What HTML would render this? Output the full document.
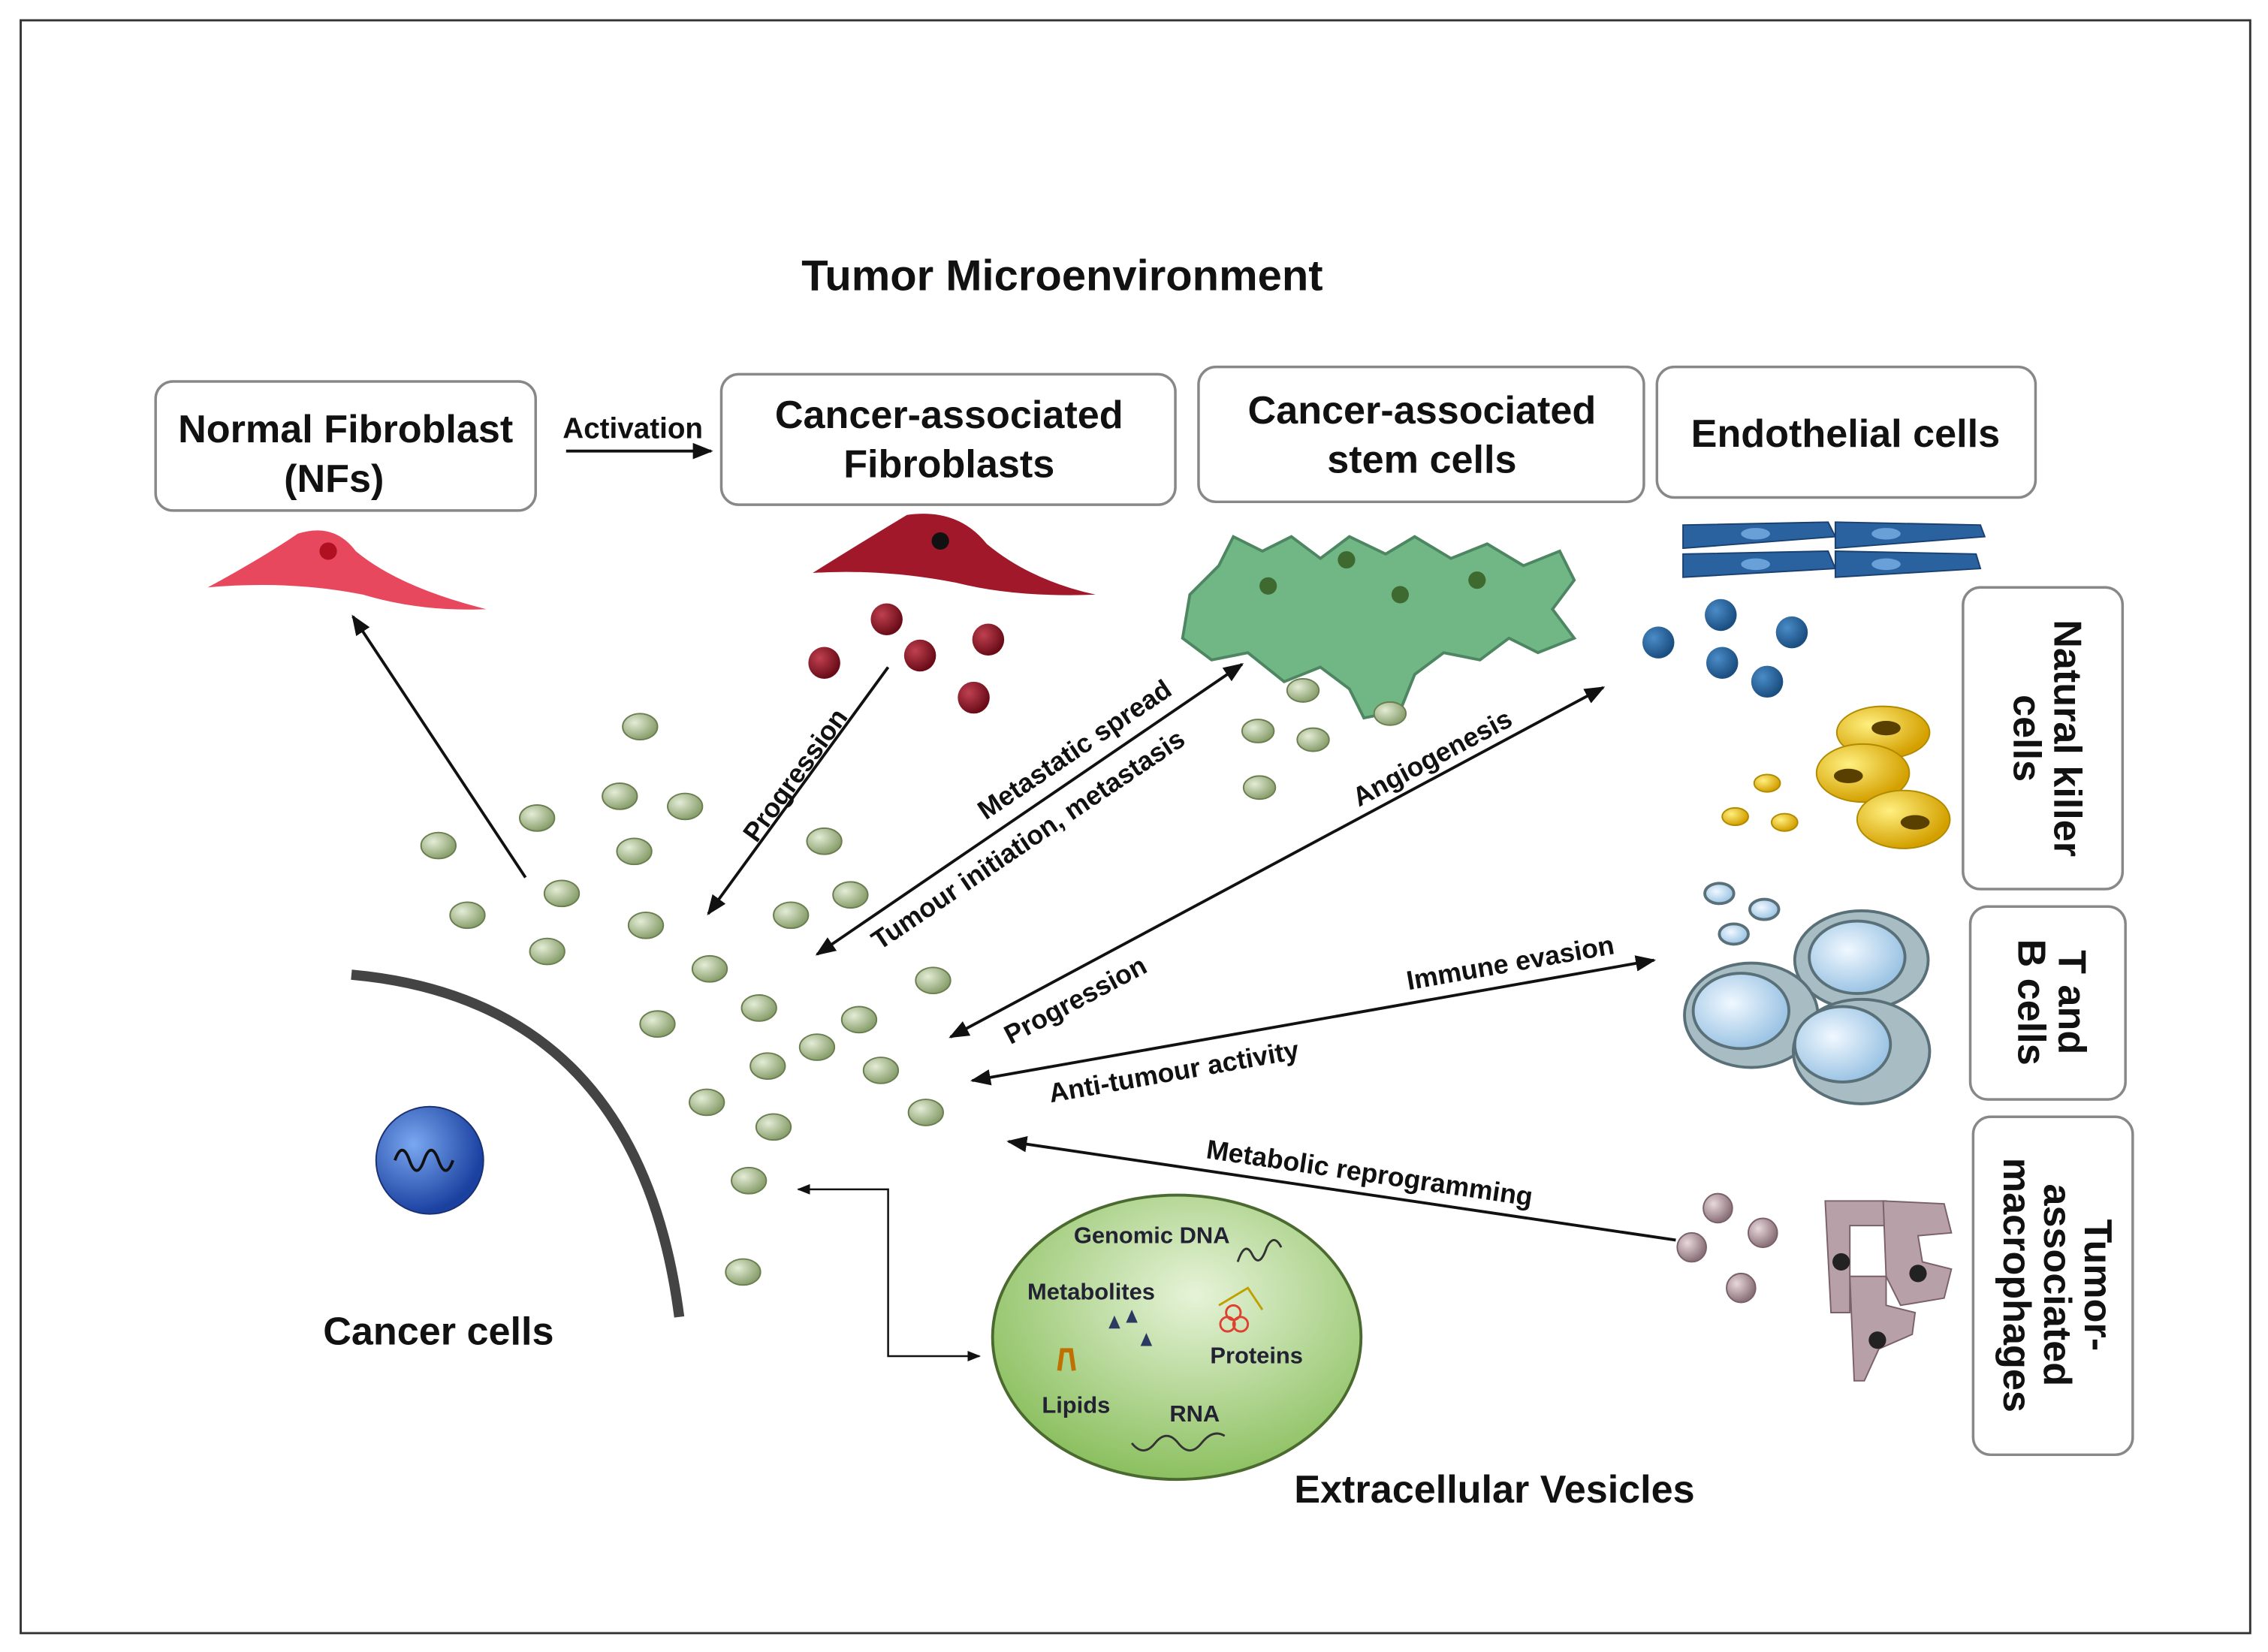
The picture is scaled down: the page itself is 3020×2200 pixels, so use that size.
<!DOCTYPE html>
<html><head><meta charset="utf-8"><style>html,body{margin:0;padding:0;background:#fff}svg{display:block}</style></head><body>
<svg width="3020" height="2200" viewBox="0 0 1563 1139" xmlns="http://www.w3.org/2000/svg" font-family="Liberation Sans, sans-serif" font-weight="bold">
<defs>
<marker id="a" viewBox="0 0 10 10" refX="9" refY="5" markerWidth="7" markerHeight="7" orient="auto-start-reverse"><path d="M0,1 L10,5 L0,9 z" fill="#111"/></marker>
<radialGradient id="g" cx="35%" cy="35%" r="65%"><stop offset="0" stop-color="#e4ecd6"/><stop offset="1" stop-color="#8aa06e"/></radialGradient>
<radialGradient id="ev" cx="55%" cy="35%" r="65%"><stop offset="0" stop-color="#e6f3d8"/><stop offset="1" stop-color="#8cc060"/></radialGradient>
<radialGradient id="blue" cx="35%" cy="35%" r="65%"><stop offset="0" stop-color="#4a8cc8"/><stop offset="1" stop-color="#1b4e80"/></radialGradient>
<radialGradient id="red" cx="35%" cy="35%" r="65%"><stop offset="0" stop-color="#c04050"/><stop offset="1" stop-color="#6a0c18"/></radialGradient>
<radialGradient id="yel" cx="35%" cy="35%" r="65%"><stop offset="0" stop-color="#fff080"/><stop offset="1" stop-color="#d4a000"/></radialGradient>
<radialGradient id="pk" cx="35%" cy="35%" r="65%"><stop offset="0" stop-color="#e8d8dc"/><stop offset="1" stop-color="#8a7078"/></radialGradient>
<radialGradient id="lb" cx="40%" cy="40%" r="60%"><stop offset="0" stop-color="#f0f8ff"/><stop offset="1" stop-color="#9cc4e4"/></radialGradient>
<radialGradient id="nuc" cx="35%" cy="35%" r="65%"><stop offset="0" stop-color="#7aa8f0"/><stop offset="1" stop-color="#1a40a0"/></radialGradient>
</defs>
<rect x="14" y="14" width="1537" height="1112" fill="#fff" stroke="#333" stroke-width="1.5"/>
<text x="732" y="200" font-size="30" text-anchor="middle" fill="#111">Tumor Microenvironment</text>
<g fill="#fff" stroke="#888" stroke-width="1.8">
<rect x="107" y="263" width="262" height="89" rx="12"/>
<rect x="497" y="258" width="313" height="90" rx="12"/>
<rect x="826" y="253" width="307" height="93" rx="12"/>
<rect x="1142" y="253" width="261" height="90" rx="12"/>
<rect x="1353" y="405" width="110" height="208" rx="12"/>
<rect x="1358" y="625" width="107" height="133" rx="12"/>
<rect x="1360" y="770" width="110" height="233" rx="12"/>
</g>
<g font-size="27" text-anchor="middle" fill="#111">
<text x="238" y="305">Normal Fibroblast</text><text x="230" y="339">(NFs)</text>
<text x="654" y="295">Cancer-associated</text><text x="654" y="329">Fibroblasts</text>
<text x="980" y="292">Cancer-associated</text><text x="980" y="326">stem cells</text>
<text x="1272" y="308">Endothelial cells</text>
<g transform="translate(1408,509) rotate(90)"><text y="-8">Natural killer</text><text y="20">cells</text></g>
<g transform="translate(1411,691) rotate(90)"><text y="-8">T and</text><text y="20">B cells</text></g>
<g transform="translate(1415,886) rotate(90)"><text y="-22">Tumor-</text><text y="6">associated</text><text y="34">macrophages</text></g>
<text x="302" y="927">Cancer cells</text>
<text x="1030" y="1036">Extracellular Vesicles</text>
</g>
<text x="436" y="302" font-size="20" text-anchor="middle" fill="#111">Activation</text>
<g stroke="#111" stroke-width="2" fill="none">
<line x1="390" y1="311" x2="490" y2="311" marker-end="url(#a)"/>
<line x1="362" y1="605" x2="243" y2="425" marker-end="url(#a)"/>
<line x1="612" y1="460" x2="488" y2="630" marker-end="url(#a)"/>
<line x1="563" y1="658" x2="856" y2="458" marker-start="url(#a)" marker-end="url(#a)"/>
<line x1="655" y1="715" x2="1105" y2="474" marker-start="url(#a)" marker-end="url(#a)"/>
<line x1="670" y1="745" x2="1140" y2="662" marker-start="url(#a)" marker-end="url(#a)"/>
<line x1="1155" y1="855" x2="695" y2="787" marker-end="url(#a)"/>
<polyline points="550,820 612,820 612,935 675,935" stroke-width="1.3" marker-start="url(#a)" marker-end="url(#a)"/>
</g>
<g font-size="18.5" fill="#111">
<text transform="translate(553,538) rotate(-54)" text-anchor="middle">Progression</text>
<text transform="translate(744,522) rotate(-34)" text-anchor="middle">Metastatic spread</text>
<text transform="translate(712,584) rotate(-34)" text-anchor="middle">Tumour initiation, metastasis</text>
<text transform="translate(990,528) rotate(-28)" text-anchor="middle">Angiogenesis</text>
<text transform="translate(744,695) rotate(-28)" text-anchor="middle">Progression</text>
<text transform="translate(1042,670) rotate(-10)" text-anchor="middle">Immune evasion</text>
<text transform="translate(810,745) rotate(-10)" text-anchor="middle">Anti-tumour activity</text>
<text transform="translate(943,815) rotate(8.4)" text-anchor="middle">Metabolic reprogramming</text>
</g>
<path d="M242,672 Q440,690 468,908" stroke="#444" stroke-width="7" fill="none"/>
<circle cx="296" cy="800" r="37" fill="url(#nuc)" stroke="#1a3070"/>
<path d="M272,800 q5,-14 10,0 q5,14 10,0 q5,-14 10,0 q5,14 10,0" stroke="#111" stroke-width="2" fill="none"/>
<path d="M143,405 Q180,385 205,368 Q230,360 245,380 Q275,405 335,420 Q290,422 250,410 Q200,400 143,405z" fill="#e8485e"/>
<circle cx="226" cy="380" r="6" fill="#b01020"/>
<path d="M560,395 Q600,370 625,355 Q660,350 680,375 Q710,400 755,410 Q700,412 660,402 Q610,392 560,395z" fill="#a0182a"/>
<circle cx="648" cy="373" r="6" fill="#111"/>
<g fill="url(#red)"><circle cx="568" cy="457" r="11"/><circle cx="611" cy="427" r="11"/><circle cx="634" cy="452" r="11"/><circle cx="681" cy="441" r="11"/><circle cx="671" cy="481" r="11"/></g>
<g fill="#62b07a" stroke="#3a7a50" stroke-width="2" opacity="0.9">
<path d="M820,410 l20,-20 l10,-20 l20,10 l20,-10 l20,15 l20,-15 l25,12 l20,-12 l25,15 l25,-10 l25,15 l25,-10 l10,20 l-15,20 l15,20 l-25,10 l-20,-10 l-20,15 l-25,-5 l-20,15 l-10,25 l-25,5 l-10,-20 l-20,-15 l-25,10 l-25,-20 l-25,5 l-20,-15 z"/>
</g>
<g fill="#3e6a30"><circle cx="874" cy="404" r="6"/><circle cx="928" cy="386" r="6"/><circle cx="965" cy="410" r="6"/><circle cx="1018" cy="400" r="6"/></g>
<g fill="url(#g)" stroke="#6a7e50" stroke-width="1">
<ellipse cx="441" cy="501" rx="12" ry="9"/><ellipse cx="370" cy="564" rx="12" ry="9"/><ellipse cx="427" cy="549" rx="12" ry="9"/><ellipse cx="472" cy="556" rx="12" ry="9"/><ellipse cx="302" cy="583" rx="12" ry="9"/><ellipse cx="437" cy="587" rx="12" ry="9"/><ellipse cx="568" cy="580" rx="12" ry="9"/><ellipse cx="387" cy="616" rx="12" ry="9"/><ellipse cx="586" cy="617" rx="12" ry="9"/><ellipse cx="322" cy="631" rx="12" ry="9"/><ellipse cx="445" cy="638" rx="12" ry="9"/><ellipse cx="545" cy="631" rx="12" ry="9"/><ellipse cx="377" cy="656" rx="12" ry="9"/><ellipse cx="489" cy="668" rx="12" ry="9"/><ellipse cx="643" cy="676" rx="12" ry="9"/><ellipse cx="523" cy="695" rx="12" ry="9"/><ellipse cx="592" cy="703" rx="12" ry="9"/><ellipse cx="453" cy="706" rx="12" ry="9"/><ellipse cx="563" cy="722" rx="12" ry="9"/><ellipse cx="529" cy="735" rx="12" ry="9"/><ellipse cx="607" cy="738" rx="12" ry="9"/><ellipse cx="487" cy="760" rx="12" ry="9"/><ellipse cx="533" cy="777" rx="12" ry="9"/><ellipse cx="638" cy="767" rx="12" ry="9"/><ellipse cx="516" cy="814" rx="12" ry="9"/><ellipse cx="512" cy="877" rx="12" ry="9"/>
<ellipse cx="898" cy="476" rx="11" ry="8"/><ellipse cx="958" cy="492" rx="11" ry="8"/><ellipse cx="867" cy="504" rx="11" ry="8"/><ellipse cx="905" cy="510" rx="11" ry="8"/><ellipse cx="868" cy="543" rx="11" ry="8"/>
</g>
<g fill="#2a62a0" stroke="#1a4070">
<path d="M1160,362 L1260,360 L1265,370 L1160,378z"/><path d="M1265,360 L1365,362 L1368,370 L1265,378z"/>
<path d="M1160,382 L1260,380 L1265,392 L1160,398z"/><path d="M1265,380 L1362,382 L1365,392 L1265,398z"/>
</g>
<g fill="#6aa0d8"><ellipse cx="1210" cy="368" rx="10" ry="4"/><ellipse cx="1300" cy="368" rx="10" ry="4"/><ellipse cx="1210" cy="389" rx="10" ry="4"/><ellipse cx="1300" cy="389" rx="10" ry="4"/></g>
<g fill="url(#blue)"><circle cx="1143" cy="443" r="11"/><circle cx="1186" cy="424" r="11"/><circle cx="1235" cy="436" r="11"/><circle cx="1187" cy="457" r="11"/><circle cx="1218" cy="470" r="11"/></g>
<g fill="url(#yel)" stroke="#b08a00"><ellipse cx="1298" cy="505" rx="32" ry="18"/><ellipse cx="1284" cy="533" rx="32" ry="20"/><ellipse cx="1312" cy="565" rx="32" ry="20"/>
<ellipse cx="1218" cy="540" rx="9" ry="6"/><ellipse cx="1196" cy="563" rx="9" ry="6"/><ellipse cx="1230" cy="567" rx="9" ry="6"/></g>
<g fill="#5a4000"><ellipse cx="1300" cy="502" rx="10" ry="5"/><ellipse cx="1274" cy="535" rx="10" ry="5"/><ellipse cx="1320" cy="567" rx="10" ry="5"/></g>
<g stroke="#5a7078" stroke-width="2"><ellipse cx="1283" cy="662" rx="46" ry="34" fill="#a8bcc4"/><ellipse cx="1280" cy="660" rx="33" ry="25" fill="url(#lb)"/>
<ellipse cx="1207" cy="700" rx="46" ry="36" fill="#a8bcc4"/><ellipse cx="1200" cy="697" rx="33" ry="26" fill="url(#lb)"/>
<ellipse cx="1283" cy="725" rx="47" ry="36" fill="#a8bcc4"/><ellipse cx="1270" cy="720" rx="33" ry="26" fill="url(#lb)"/>
<ellipse cx="1185" cy="616" rx="10" ry="7" fill="url(#lb)"/><ellipse cx="1216" cy="627" rx="10" ry="7" fill="url(#lb)"/><ellipse cx="1195" cy="644" rx="10" ry="7" fill="url(#lb)"/></g>
<g fill="url(#pk)" stroke="#7a6068"><circle cx="1184" cy="833" r="10"/><circle cx="1215" cy="850" r="10"/><circle cx="1166" cy="860" r="10"/><circle cx="1200" cy="888" r="10"/></g>
<g fill="#b8a0a8" stroke="#7a6068"><path d="M1258,828 L1300,828 L1300,845 L1275,845 L1275,905 L1262,905z"/><path d="M1298,828 L1340,830 L1345,850 L1322,852 L1325,870 L1345,875 L1340,895 L1310,900 L1300,880z"/><path d="M1275,880 L1300,880 L1300,900 L1320,905 L1318,920 L1295,930 L1285,952 L1278,952z"/></g>
<g fill="#222"><circle cx="1269" cy="870" r="6"/><circle cx="1322" cy="878" r="6"/><circle cx="1294" cy="924" r="6"/></g>
<ellipse cx="811" cy="922" rx="127" ry="98" fill="url(#ev)" stroke="#4a6a30" stroke-width="2"/>
<g font-size="16" fill="#223"><text x="740" y="857">Genomic DNA</text><text x="708" y="896">Metabolites</text><text x="834" y="940">Proteins</text><text x="718" y="974">Lipids</text><text x="806" y="980">RNA</text></g>
<path d="M853,870 q5,-15 10,-5 q5,10 10,-5 q5,-10 10,0" stroke="#333" fill="none" stroke-width="1.5"/>
<path d="M780,995 q8,10 16,0 q8,-10 16,0 q8,10 16,0 q8,-10 16,-5" stroke="#333" fill="none" stroke-width="1.5"/>
<g fill="#2a3a60"><path d="M764,916 l4,-9 l4,9z"/><path d="M776,912 l4,-9 l4,9z"/><path d="M786,928 l4,-9 l4,9z"/></g>
<path d="M730,945 l2,-14 l6,0 l2,14" stroke="#c07000" stroke-width="3" fill="none"/>
<g stroke="#e04030" fill="none" stroke-width="1.5"><circle cx="846" cy="913" r="5"/><circle cx="855" cy="913" r="5"/><circle cx="850" cy="905" r="5"/></g>
<path d="M840,900 l20,-12 l10,15" stroke="#c0a000" fill="none" stroke-width="1.5"/>
</svg>
</body></html>
